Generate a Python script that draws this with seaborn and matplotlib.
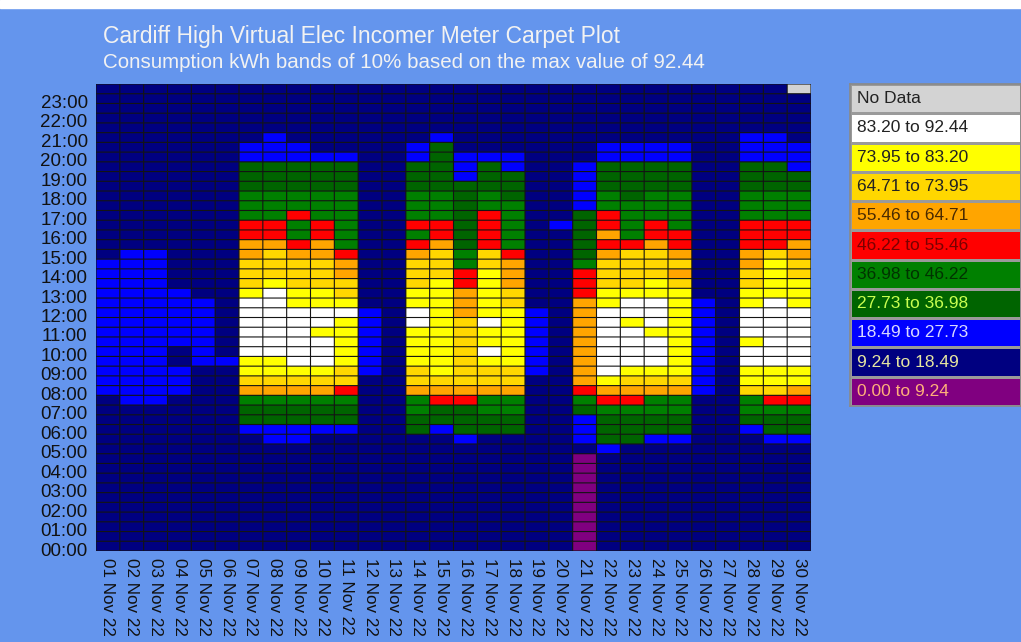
"""
Carpet plot of half-hourly consumption bands, Cardiff High, Nov 2022
"""
import numpy as np
import pandas as pd
import matplotlib
matplotlib.use("Agg")
import matplotlib.pyplot as plt
from matplotlib.colors import ListedColormap
from matplotlib.patches import Rectangle
import seaborn as sns

sns.set_theme(style="white")
plt.rcParams['font.family'] = ['Liberation Sans', 'DejaVu Sans']

title = "Cardiff High Virtual Elec Incomer Meter Carpet Plot"
subtitle = "Consumption kWh bands of 10% based on the max value of 92.44"

days = [f"{d:02d} Nov 22" for d in range(1, 31)]
hour_labels = [f"{h:02d}:00" for h in range(24)]

# band edges in kWh (10% of the max value 92.44)
band_edges = [0.00, 9.24, 18.49, 27.73, 36.98, 46.22, 55.46, 64.71, 73.95, 83.20, 92.44]
band_colors = ['#800080', '#000080', '#0000ff', '#006400', '#008000',
               '#ff0000', '#ffa500', '#ffd700', '#ffff00', '#ffffff', '#d3d3d3']
label_colors = ['#ffb07a', '#e6e6a0', '#d8d8ff', '#c8ff50', '#003300',
                '#7a0000', '#4a2a00', '#222222', '#222222', '#222222', '#222222']

# band index for each half hour, one string per day,
# 24 pairs (hh:00, hh:30) from 00:00 upwards; x = no data
carpet = [
    "11 11 11 11 11 11 11 11 22 22 22 22 22 22 22 11 11 11 11 11 11 11 11 11",  # 01
    "11 11 11 11 11 11 11 12 22 22 22 22 22 22 22 21 11 11 11 11 11 11 11 11",  # 02
    "11 11 11 11 11 11 11 12 22 22 22 22 22 22 22 21 11 11 11 11 11 11 11 11",  # 03
    "11 11 11 11 11 11 11 11 22 21 12 22 22 21 11 11 11 11 11 11 11 11 11 11",  # 04
    "11 11 11 11 11 11 11 11 11 12 22 22 22 11 11 11 11 11 11 11 11 11 11 11",  # 05
    "11 11 11 11 11 11 11 11 11 12 11 11 11 11 11 11 11 11 11 11 11 11 11 11",  # 06
    "11 11 11 11 11 11 23 34 67 88 99 99 99 87 77 66 55 44 43 33 22 11 11 11",  # 07
    "11 11 11 11 11 12 23 34 67 88 99 99 99 98 77 76 55 44 43 33 22 21 11 11",  # 08
    "11 11 11 11 11 12 23 34 67 89 99 99 98 87 77 65 44 54 43 33 22 11 11 11",  # 09
    "11 11 11 11 11 11 23 34 67 89 99 89 98 87 77 66 55 44 43 33 21 11 11 11",  # 10
    "11 11 11 11 11 11 23 34 57 78 88 88 98 77 66 54 44 44 43 33 21 11 11 11",  # 11
    "11 11 11 11 11 11 11 11 11 22 22 22 21 11 11 11 11 11 11 11 11 11 11 11",  # 12
    "11 11 11 11 11 11 11 11 11 11 11 11 11 11 11 11 11 11 11 11 11 11 11 11",  # 13
    "11 11 11 11 11 11 33 44 67 78 88 89 98 87 77 65 45 44 43 33 22 11 11 11",  # 14
    "11 11 11 11 11 11 23 35 67 88 88 88 88 88 77 76 55 44 43 33 33 21 11 11",  # 15
    "11 11 11 11 11 12 33 35 67 77 77 77 66 65 54 43 33 33 33 22 21 11 11 11",  # 16
    "11 11 11 11 11 11 33 44 67 78 98 89 88 88 87 75 55 54 43 33 21 11 11 11",  # 17
    "11 11 11 11 11 11 33 44 67 78 88 88 87 76 66 54 44 44 33 32 21 11 11 11",  # 18
    "11 11 11 11 11 11 11 11 11 22 22 22 21 11 11 11 11 11 11 11 11 11 11 11",  # 19
    "11 11 11 11 11 11 11 11 11 11 11 11 11 11 11 11 12 11 11 11 11 11 11 11",  # 20
    "00 00 00 00 00 12 22 34 56 66 66 66 66 55 54 33 33 32 22 22 11 11 11 11",  # 21
    "11 11 11 11 11 23 33 45 68 99 99 99 98 87 77 65 65 54 43 33 22 11 11 11",  # 22
    "11 11 11 11 11 13 33 45 67 89 99 98 99 87 77 75 44 44 33 33 22 11 11 11",  # 23
    "11 11 11 11 11 12 33 44 67 89 99 89 99 88 77 76 55 44 43 33 22 11 11 11",  # 24
    "11 11 11 11 11 12 33 44 67 88 88 88 88 87 67 65 54 44 43 33 22 11 11 11",  # 25
    "11 11 11 11 11 11 11 11 22 22 22 22 22 11 11 11 11 11 11 11 11 11 11 11",  # 26
    "11 11 11 11 11 11 11 11 11 11 11 11 11 11 11 11 11 11 11 11 11 11 11 11",  # 27
    "11 11 11 11 11 11 23 44 78 89 98 99 98 87 76 65 55 44 43 33 22 21 11 11",  # 28
    "11 11 11 11 11 12 33 45 78 89 99 99 99 88 88 75 55 44 43 33 22 21 11 11",  # 29
    "11 11 11 11 11 12 33 45 68 89 99 99 98 88 77 66 55 44 43 32 22 11 11 1x",  # 30
]

codes = "0123456789x"
grid = np.array([[codes.index(c) for c in s.replace(" ", "")] for s in carpet]).T
half_hours = [f"{h:02d}:{m}" for h in range(24) for m in ("00", "30")]
df = pd.DataFrame(grid, index=half_hours, columns=days)

cmap = ListedColormap(band_colors)
bg = '#6495ed'
W, H = 1021, 642

fig = plt.figure(figsize=(W / 100, H / 100), dpi=100, facecolor=bg)
fig.patches.append(Rectangle((0, 1 - 8 / H), 1, 8 / H, transform=fig.transFigure,
                             color='white', zorder=0))

# main carpet
ax = fig.add_axes([96 / W, 1 - 551 / H, 715 / W, 467 / H])
sns.heatmap(df, ax=ax, cmap=cmap, vmin=-0.5, vmax=10.5, cbar=False, linewidths=0)
ax.invert_yaxis()
# cell borders
nrows, ncols = df.shape
hl = ax.hlines(np.arange(nrows + 1), 0, ncols, colors='#141414', linewidth=0.8)
vl = ax.vlines(np.arange(ncols + 1), 0, nrows, colors='#141414', linewidth=0.8)
hl.set_snap(False)
vl.set_snap(False)
ax.set_xlim(0, ncols)
ax.set_ylim(0, nrows)
ax.set_yticks(np.arange(0, 48, 2))
ax.set_yticklabels(hour_labels, rotation=0, fontsize=13.5, color='#111111')
ax.set_xticks(np.arange(30) + 0.5)
ax.set_xticklabels(days, rotation=-90, fontsize=12.3, color='#111111')
ax.tick_params(length=0)
ax.tick_params(axis='y', pad=6)
ax.tick_params(axis='x', pad=5)
ax.set_xlabel("")
ax.set_ylabel("")

fig.text(103 / W, 1 - 37 / H, title, fontsize=16.5, color='#f2f2f2', va='center')
fig.text(103 / W, 1 - 62 / H, subtitle, fontsize=14.8, color='#f2f2f2', va='center')

# legend table, top row = no data, then highest band down to lowest
legend_codes = list(range(10, -1, -1))
legend_labels = ["No Data"] + [f"{band_edges[k]:.2f} to {band_edges[k + 1]:.2f}"
                               for k in range(9, -1, -1)]
legend_text_colors = [label_colors[10]] + [label_colors[k] for k in range(9, -1, -1)]

lax = fig.add_axes([850 / W, 1 - 406 / H, 171 / W, 322 / H])
sns.heatmap(pd.DataFrame({"band": legend_codes}), ax=lax, cmap=cmap,
            vmin=-0.5, vmax=10.5, cbar=False, linewidths=1, linecolor='#9a9a9a',
            xticklabels=False, yticklabels=False)
for i, (lab, col) in enumerate(zip(legend_labels, legend_text_colors)):
    lax.text(0.04, i + 0.5, lab, ha='left', va='center', fontsize=12.5, color=col)
for sp in lax.spines.values():
    sp.set_visible(True)
    sp.set_color('#8a8a8a')
lax.set_xlabel("")
lax.set_ylabel("")

fig.savefig("out.png", dpi=100, facecolor=bg)
